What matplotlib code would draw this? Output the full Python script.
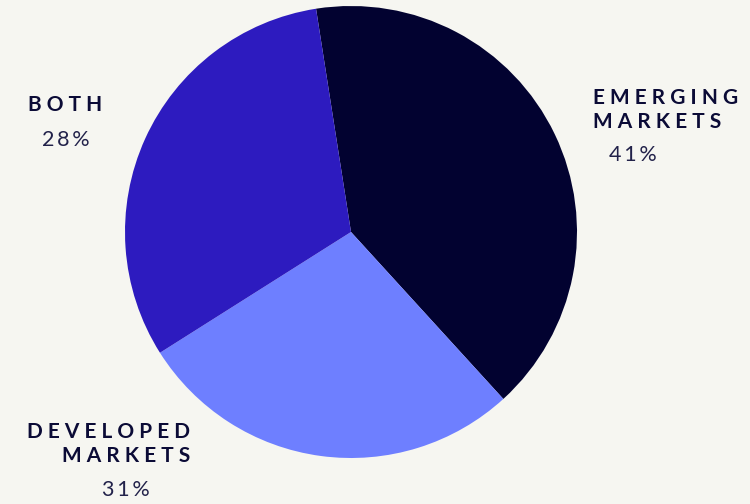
import matplotlib.pyplot as plt

# Datos del gráfico
categorias = ["EMERGING\nMARKETS", "DEVELOPED\nMARKETS", "BOTH"]
tamanos = [40.7, 27.8, 31.5]  # tamaño de cada sector
etiquetas_pct = ["41%", "31%", "28%"]  # texto mostrado junto a cada sector
colores = ["#020230", "#6e7fff", "#2d1bbf"]

fondo = "#f6f6f1"
color_texto = "#0b0b36"

fig = plt.figure(figsize=(7.5, 5.04), dpi=100, facecolor=fondo)
ax = fig.add_axes([125 / 750, 46 / 504, 452 / 750, 452 / 504])
ax.set_facecolor(fondo)
ax.pie(tamanos, colors=colores, startangle=98.9, counterclock=False,
       wedgeprops=dict(linewidth=0))
ax.set_xlim(-1, 1)
ax.set_ylim(-1, 1)
ax.set_aspect("equal")
ax.axis("off")


def espaciar(txt):
    return "\n".join(" ".join(linea) for linea in txt.split("\n"))


def px(x, y):
    return x / 750, 1 - y / 504


kw_cat = dict(fontfamily="Lato", fontweight="bold", fontsize=15,
              color=color_texto, linespacing=1.25)
kw_pct = dict(fontfamily="Lato", fontweight="normal", fontsize=15.5,
              color="#22224a")

# Emerging
fig.text(*px(593, 110), espaciar(categorias[0]), ha="left", va="center", **kw_cat)
fig.text(*px(633, 155), "\u2009".join(etiquetas_pct[0]), ha="center", va="center", **kw_pct)
# Developed
fig.text(*px(190, 444), espaciar(categorias[1]), ha="right", va="center",
         multialignment="right", **kw_cat)
fig.text(*px(126, 490), "\u2009".join(etiquetas_pct[1]), ha="center", va="center", **kw_pct)
# Both
fig.text(*px(28, 105), espaciar(categorias[2]), ha="left", va="center", **kw_cat)
fig.text(*px(66, 140), "\u2009".join(etiquetas_pct[2]), ha="center", va="center", **kw_pct)

fig.savefig("out.png", dpi=100, facecolor=fondo)
